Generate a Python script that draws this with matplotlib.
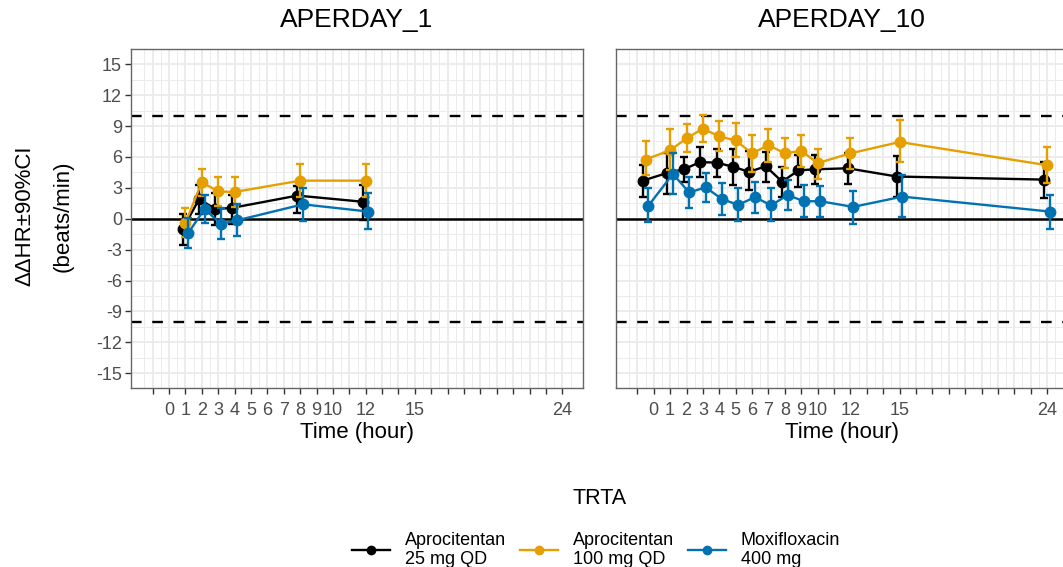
import matplotlib
matplotlib.use('Agg')
import matplotlib.pyplot as plt
from matplotlib.lines import Line2D
import numpy as np

plt.rcParams['font.family'] = ['Liberation Sans', 'DejaVu Sans']

# ---------------- data ----------------
series_names = ['Aprocitentan\n25 mg QD', 'Aprocitentan\n100 mg QD', 'Moxifloxacin\n400 mg']
series_colors = ['#000000', '#E69F00', '#0072B2']
panel_titles = ['APERDAY_1', 'APERDAY_10']

day1_hours = [1, 2, 3, 4, 8, 12]
day1_mean_25 = [-1.0, 1.9, 0.95, 1.05, 2.25, 1.65]
day1_lo_25 = [-2.5, 0.5, -0.65, -0.5, 0.6, -0.1]
day1_hi_25 = [0.5, 3.3, 2.5, 2.3, 3.2, 3.3]
day1_mean_100 = [-0.4, 3.55, 2.65, 2.6, 3.7, 3.7]
day1_lo_100 = [-1.8, 2.25, 1.2, 1.1, 2.1, 2.1]
day1_hi_100 = [1.0, 4.85, 4.1, 4.1, 5.3, 5.3]
day1_mean_moxi = [-1.4, 0.95, -0.5, -0.15, 1.4, 0.7]
day1_lo_moxi = [-2.85, -0.4, -2.0, -1.7, -0.25, -1.0]
day1_hi_moxi = [0.05, 2.3, 1.0, 1.4, 3.0, 2.5]

day10_hours = [-0.5, 1, 2, 3, 4, 5, 6, 7, 8, 9, 10, 12, 15, 24]
day10_mean_25 = [3.7, 4.45, 4.8, 5.5, 5.45, 5.05, 4.55, 5.1, 3.6, 4.7, 4.8, 4.9, 4.1, 3.8]
day10_lo_25 = [2.1, 2.45, 3.6, 4.1, 4.1, 3.3, 2.8, 3.6, 2.15, 3.1, 3.4, 3.4, 2.1, 2.0]
day10_hi_25 = [5.2, 6.35, 6.0, 7.0, 6.8, 6.8, 6.6, 6.5, 5.05, 6.2, 6.2, 6.35, 6.1, 5.5]
day10_mean_100 = [5.75, 6.65, 7.8, 8.75, 8.0, 7.6, 6.35, 7.15, 6.35, 6.6, 5.4, 6.35, 7.45, 5.2]
day10_lo_100 = [4.2, 4.7, 6.5, 7.45, 6.6, 6.0, 4.5, 5.5, 4.9, 5.05, 3.9, 4.85, 5.5, 3.45]
day10_hi_100 = [7.5, 8.75, 9.2, 10.1, 9.5, 9.3, 8.1, 8.75, 7.8, 8.1, 6.8, 7.8, 9.55, 7.0]
day10_mean_moxi = [1.25, 4.35, 2.55, 3.05, 1.9, 1.35, 2.1, 1.3, 2.3, 1.7, 1.7, 1.15, 2.15, 0.7]
day10_lo_moxi = [-0.3, 2.4, 1.0, 1.65, 0.4, -0.25, 0.55, -0.2, 0.85, 0.15, 0.2, -0.5, 0.2, -1.0]
day10_hi_moxi = [2.95, 6.35, 4.1, 4.45, 3.45, 2.95, 3.6, 2.95, 3.75, 3.3, 3.2, 2.7, 4.2, 2.3]

x_tick_positions = list(range(-1, 25))
x_tick_labeled = [0, 1, 2, 3, 4, 5, 6, 7, 8, 9, 10, 12, 15, 24]
y_ticks = [-15, -12, -9, -6, -3, 0, 3, 6, 9, 12, 15]
ref_lines = [-10, 10]

panels = [
    (day1_hours, [(day1_mean_25, day1_lo_25, day1_hi_25),
                  (day1_mean_100, day1_lo_100, day1_hi_100),
                  (day1_mean_moxi, day1_lo_moxi, day1_hi_moxi)]),
    (day10_hours, [(day10_mean_25, day10_lo_25, day10_hi_25),
                   (day10_mean_100, day10_lo_100, day10_hi_100),
                   (day10_mean_moxi, day10_lo_moxi, day10_hi_moxi)]),
]

# ---------------- figure ----------------
W, H = 1063, 567
fig = plt.figure(figsize=(W / 100, H / 100), dpi=100)
fig.patch.set_facecolor('white')

pan_top, pan_bot = 49.3, 387.7
pan_w = 451.7
lefts = [131.0, 615.7]
dodge = [-1 / 6, 0.0, 1 / 6]
xlim = (-2.32, 25.24)
ylim = (-16.4, 16.45)

grid_col = '#EBEBEB'
tick_col = '#4D4D4D'

for pi, (hours, series) in enumerate(panels):
    ax = fig.add_axes([lefts[pi] / W, 1 - pan_bot / H, pan_w / W, (pan_bot - pan_top) / H])
    ax.set_xlim(*xlim)
    ax.set_ylim(*ylim)
    # grid
    for xm in np.arange(-1.5, 25.0, 1.0):
        ax.axvline(xm, color=grid_col, lw=0.7, zorder=0)
    for ym in np.arange(-16.5, 16.6, 3.0):
        ax.axhline(ym, color=grid_col, lw=0.7, zorder=0)
    for xM in x_tick_positions:
        ax.axvline(xM, color=grid_col, lw=1.3, zorder=0)
    for yM in y_ticks:
        ax.axhline(yM, color=grid_col, lw=1.3, zorder=0)
    # reference lines
    ax.axhline(0, color='black', lw=1.8, zorder=1)
    for r in ref_lines:
        ax.axhline(r, color='black', lw=1.7, dashes=(4.5, 4.5), zorder=1)
    # series
    h = np.array(hours, dtype=float)
    for si, (mean, lo, hi) in enumerate(series):
        xs = h + dodge[si]
        mean = np.array(mean)
        lo = np.array(lo)
        hi = np.array(hi)
        c = series_colors[si]
        ax.errorbar(xs, mean, yerr=[mean - lo, hi - mean], fmt='none', ecolor=c,
                    elinewidth=1.7, capsize=3.0, capthick=1.7, zorder=3 + si)
        ax.plot(xs, mean, color=c, lw=1.7, zorder=3 + si)
        ax.plot(xs, mean, 'o', color=c, ms=7.5, zorder=3 + si, mec=c)
    # axes style
    for sp in ax.spines.values():
        sp.set_color('#666666')
        sp.set_linewidth(1.0)
        sp.set_zorder(10)
    ax.set_xticks(x_tick_positions)
    ax.set_xticklabels([str(t) if t in x_tick_labeled else '' for t in x_tick_positions])
    ax.tick_params(axis='x', length=4.5, width=1.0, color='#333333', labelcolor=tick_col,
                   labelsize=13, pad=6)
    ax.set_yticks(y_ticks)
    if pi == 0:
        ax.set_yticklabels([str(t) for t in y_ticks])
        ax.tick_params(axis='y', length=4.5, width=1.0, color='#333333', labelcolor=tick_col,
                       labelsize=13, pad=2)
    else:
        ax.tick_params(axis='y', length=0, labelleft=False)
    ax.set_xlabel('Time (hour)', fontsize=16, color='black', labelpad=2)
    cx = (lefts[pi] + pan_w / 2) / W
    fig.text(cx, 1 - 20 / H, panel_titles[pi], ha='center', va='center', fontsize=19)

# y label
fig.text(44 / W, 1 - 216 / H, 'ΔΔHR±90%CI\n(beats/min)', rotation=90, ha='center', va='center',
         fontsize=16, linespacing=2.05, multialignment='center')

# legend
fig.text(600 / W, 1 - 499 / H, 'TRTA', ha='center', va='center', fontsize=15.5)
handles = [Line2D([0], [0], color=c, lw=1.7, marker='o', ms=6) for c in series_colors]
fig.legend(handles, series_names, loc='center', bbox_to_anchor=(596 / W, 1 - 550 / H),
           ncol=3, frameon=False, fontsize=13, handlelength=2.1, handletextpad=0.85,
           columnspacing=0.75, labelspacing=0.2)

fig.savefig('out.png', dpi=100, facecolor='white')
